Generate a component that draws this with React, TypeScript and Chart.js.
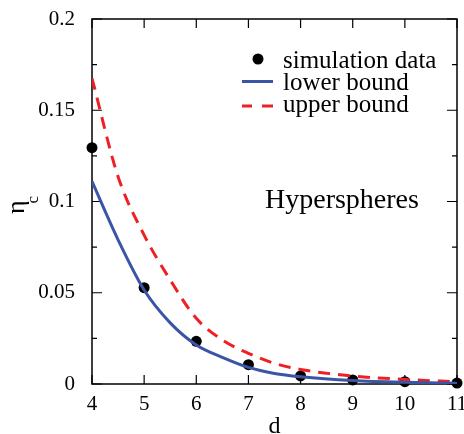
import React, { useEffect, useRef } from "react";
import { Chart, registerables } from "chart.js";

Chart.register(...registerables);

const dims = [4, 5, 6, 7, 8, 9, 10, 11];
const simulationData = [0.1295, 0.0528, 0.0234, 0.0106, 0.0044, 0.0022, 0.0013, 0.0005];
const curveDims = [4, 4.5, 5, 5.5, 6, 6.5, 7, 7.5, 8, 9, 10, 11];
const lowerBound = [0.111, 0.079, 0.0515, 0.0335, 0.0214, 0.0146, 0.0091, 0.0058, 0.004, 0.0019, 0.0009, 0.0004];
const upperBound = [0.1675, 0.1136, 0.0816, 0.057, 0.036, 0.0241, 0.0168, 0.0113, 0.008, 0.0044, 0.0025, 0.0012];
const xTicks = [4, 5, 6, 7, 8, 9, 10, 11];
const yMajorTicks = [0, 0.05, 0.1, 0.15, 0.2];
const yMinorTicks = [0.025, 0.075, 0.125, 0.175];

const SERIF = "'Liberation Serif', 'DejaVu Serif', serif";
const BLUE = "#3a55a5";
const RED = "#ee2024";

const framePlugin = {
  id: "framePlugin",
  beforeDatasetsDraw(chart: any) {
    const { ctx, chartArea: a, scales } = chart;
    const xs = scales.x;
    const ys = scales.y;
    ctx.save();
    ctx.strokeStyle = "#000";
    ctx.lineWidth = 1.5;
    ctx.strokeRect(a.left, a.top, a.right - a.left, a.bottom - a.top);
    ctx.lineWidth = 1.2;
    ctx.beginPath();
    for (const v of xTicks) {
      const px = xs.getPixelForValue(v);
      ctx.moveTo(px, a.bottom);
      ctx.lineTo(px, a.bottom - 9);
      ctx.moveTo(px, a.top);
      ctx.lineTo(px, a.top + 9);
    }
    for (const v of yMajorTicks) {
      const py = ys.getPixelForValue(v);
      ctx.moveTo(a.left, py);
      ctx.lineTo(a.left + 10, py);
      ctx.moveTo(a.right, py);
      ctx.lineTo(a.right - 10, py);
    }
    for (const v of yMinorTicks) {
      const py = ys.getPixelForValue(v);
      ctx.moveTo(a.left, py);
      ctx.lineTo(a.left + 5, py);
      ctx.moveTo(a.right, py);
      ctx.lineTo(a.right - 5, py);
    }
    ctx.stroke();
    ctx.restore();
  },
  afterDraw(chart: any) {
    const { ctx, chartArea: a } = chart;
    ctx.save();
    ctx.fillStyle = "#000";
    // x title
    ctx.font = `24px ${SERIF}`;
    ctx.textAlign = "center";
    ctx.textBaseline = "alphabetic";
    ctx.fillText("d", (a.left + a.right) / 2, 433);
    // y title (rotated eta_c)
    ctx.save();
    ctx.translate(24, 214);
    ctx.rotate(-Math.PI / 2);
    ctx.textAlign = "left";
    ctx.font = `26px ${SERIF}`;
    ctx.fillText("η", 0, 0);
    const w = ctx.measureText("η").width;
    ctx.font = `17px ${SERIF}`;
    ctx.fillText("c", w - 3, 14);
    ctx.restore();
    // Hyperspheres
    ctx.font = `28px ${SERIF}`;
    ctx.textAlign = "left";
    ctx.fillText("Hyperspheres", 265, 208);
    // legend
    ctx.font = `25px ${SERIF}`;
    ctx.fillText("simulation data", 283, 68);
    ctx.fillText("lower bound", 283, 90);
    ctx.fillText("upper bound", 283, 112);
    ctx.beginPath();
    ctx.arc(258, 59, 5.5, 0, Math.PI * 2);
    ctx.fill();
    ctx.lineWidth = 3;
    ctx.strokeStyle = BLUE;
    ctx.beginPath();
    ctx.moveTo(242, 81.5);
    ctx.lineTo(273, 81.5);
    ctx.stroke();
    ctx.strokeStyle = RED;
    ctx.beginPath();
    ctx.moveTo(242, 106);
    ctx.lineTo(252, 106);
    ctx.moveTo(262, 106);
    ctx.lineTo(273, 106);
    ctx.stroke();
    ctx.restore();
  },
};

export default function App() {
  const ref = useRef<HTMLCanvasElement | null>(null);
  useEffect(() => {
    if (!ref.current) return;
    const toXY = (xs: number[], arr: number[]) => xs.map((d, i) => ({ x: d, y: arr[i] }));
    const chart = new Chart(ref.current, {
      type: "scatter",
      data: {
        datasets: [
          {
            label: "lower bound",
            data: toXY(curveDims, lowerBound),
            showLine: true,
            borderColor: BLUE,
            borderWidth: 3,
            pointRadius: 0,
            cubicInterpolationMode: "monotone",
            fill: false,
          } as any,
          {
            label: "upper bound",
            data: toXY(curveDims, upperBound),
            showLine: true,
            borderColor: RED,
            borderWidth: 3,
            borderDash: [12, 8],
            pointRadius: 0,
            cubicInterpolationMode: "monotone",
            fill: false,
          } as any,
          {
            label: "simulation data",
            data: toXY(dims, simulationData),
            showLine: false,
            pointRadius: 5.5,
            pointBackgroundColor: "#000",
            pointBorderColor: "#000",
            pointBorderWidth: 0,
            clip: false,
          } as any,
        ],
      },
      options: {
        animation: false,
        responsive: false,
        maintainAspectRatio: false,
        events: [],
        layout: { padding: { top: 19, right: 7, left: 0, bottom: 0 } },
        plugins: { legend: { display: false }, tooltip: { enabled: false } },
        scales: {
          x: {
            type: "linear",
            min: 4,
            max: 11,
            grid: { display: false },
            border: { display: false },
            ticks: {
              stepSize: 1,
              padding: 0,
              color: "#000",
              font: { family: SERIF, size: 21 },
              callback: (v: any) => String(v),
            },
            afterFit: (s: any) => {
              s.height = 50;
              s.paddingLeft = 0;
              s.paddingRight = 0;
            },
          },
          y: {
            type: "linear",
            min: 0,
            max: 0.2,
            grid: { display: false },
            border: { display: false },
            ticks: {
              stepSize: 0.05,
              padding: 9,
              color: "#000",
              font: { family: SERIF, size: 21 },
              callback: (v: any) => String(Math.round(v * 100) / 100),
            },
            afterFit: (s: any) => {
              s.width = 92;
              s.paddingTop = 0;
              s.paddingBottom = 0;
            },
          },
        },
      },
      plugins: [framePlugin],
    });
    return () => chart.destroy();
  }, []);
  return (
    <div style={{ position: "fixed", left: 0, top: 0, width: 464, height: 434, background: "#fff" }}>
      <canvas ref={ref} width={464} height={434} style={{ display: "block" }} />
    </div>
  );
}
